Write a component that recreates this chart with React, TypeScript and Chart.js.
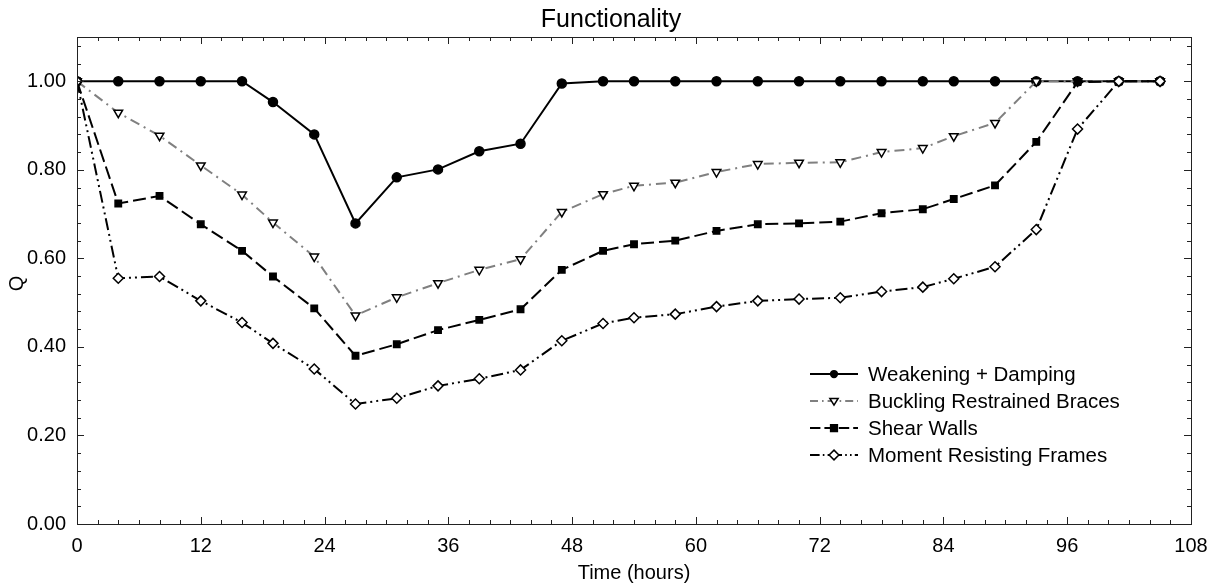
import React, { useEffect, useRef } from "react";
import { Chart, registerables } from "chart.js";

Chart.register(...registerables);

const hours = [0, 4, 8, 12, 16, 19, 23, 27, 31, 35, 39, 43, 47, 51, 54, 58, 62, 66, 70, 74, 78, 82, 85, 89, 93, 97, 101, 105];
const weakeningDamping = [1.0, 1.0, 1.0, 1.0, 1.0, 0.953, 0.88, 0.679, 0.783, 0.801, 0.842, 0.859, 0.995, 1.0, 1.0, 1.0, 1.0, 1.0, 1.0, 1.0, 1.0, 1.0, 1.0, 1.0, 1.0, 1.0, 1.0, 1.0];
const bucklingBraces = [1.0, 0.929, 0.877, 0.81, 0.744, 0.681, 0.604, 0.471, 0.512, 0.544, 0.574, 0.598, 0.705, 0.745, 0.764, 0.771, 0.795, 0.813, 0.816, 0.817, 0.84, 0.849, 0.876, 0.906, 1.0, 1.0, 1.0, 1.0];
const shearWalls = [1.0, 0.724, 0.741, 0.677, 0.617, 0.559, 0.487, 0.38, 0.406, 0.438, 0.461, 0.485, 0.574, 0.617, 0.632, 0.64, 0.662, 0.677, 0.679, 0.683, 0.702, 0.711, 0.734, 0.765, 0.863, 0.998, 1.0, 1.0];
const momentFrames = [1.0, 0.555, 0.559, 0.504, 0.455, 0.408, 0.35, 0.271, 0.284, 0.312, 0.328, 0.348, 0.414, 0.453, 0.466, 0.474, 0.491, 0.504, 0.508, 0.511, 0.525, 0.535, 0.554, 0.581, 0.665, 0.892, 1.0, 1.0];

const seriesNames = ["Weakening + Damping", "Buckling Restrained Braces", "Shear Walls", "Moment Resisting Frames"];
const yTickValues = [0, 0.2, 0.4, 0.6, 0.8, 1.0];
const chartTitle = "Functionality";
const xTitle = "Time (hours)";
const yTitle = "Q";

const FONT = "'Liberation Sans', Arial, Helvetica, sans-serif";

const styles = [
  { color: "#000000", dash: [] as number[], point: "circle", rot: 0, fill: "#000000", r: 4.5 },
  { color: "#808080", dash: [10, 5, 2, 5], point: "triangle", rot: 180, fill: "#ffffff", r: 5 },
  { color: "#000000", dash: [13, 5], point: "rect", rot: 0, fill: "#000000", r: 4.5 },
  { color: "#000000", dash: [12, 4, 2, 4, 2, 4], point: "rectRot", rot: 0, fill: "#ffffff", r: 5 },
];

function drawMarker(ctx: CanvasRenderingContext2D, style: string, x: number, y: number, r: number, rot: number) {
  ctx.beginPath();
  if (style === "circle") {
    ctx.arc(x, y, r, 0, Math.PI * 2);
  } else if (style === "rect") {
    ctx.rect(x - r, y - r, 2 * r, 2 * r);
  } else if (style === "rectRot") {
    ctx.moveTo(x, y - r * 1.3);
    ctx.lineTo(x + r * 1.3, y);
    ctx.lineTo(x, y + r * 1.3);
    ctx.lineTo(x - r * 1.3, y);
    ctx.closePath();
  } else if (style === "triangle") {
    const s = rot === 180 ? 1 : -1;
    ctx.moveTo(x - r * 1.1, y - s * r * 0.7);
    ctx.lineTo(x + r * 1.1, y - s * r * 0.7);
    ctx.lineTo(x, y + s * r * 1.1);
    ctx.closePath();
  }
  ctx.fill();
  ctx.stroke();
}

const framePlugin = {
  id: "framePlugin",
  afterDraw(chart: any) {
    const { ctx, chartArea } = chart;
    const xs = chart.scales.x;
    const ys = chart.scales.y;
    const { left, right, top, bottom } = chartArea;
    ctx.save();
    ctx.strokeStyle = "#222222";
    ctx.lineWidth = 1;
    ctx.setLineDash([]);
    ctx.strokeRect(left + 0.5, top + 0.5, right - left, bottom - top);
    ctx.beginPath();
    for (let h = 0; h <= 108; h += 2) {
      const px = Math.round(xs.getPixelForValue(h)) + 0.5;
      const len = h % 12 === 0 ? 7 : 4;
      ctx.moveTo(px, bottom);
      ctx.lineTo(px, bottom - len);
      ctx.moveTo(px, top);
      ctx.lineTo(px, top + len);
    }
    for (let i = 0; i <= 27; i++) {
      const v = i * 0.04;
      const py = Math.round(ys.getPixelForValue(v)) + 0.5;
      const len = i % 5 === 0 ? 7 : 4;
      ctx.moveTo(left, py);
      ctx.lineTo(left + len, py);
      ctx.moveTo(right, py);
      ctx.lineTo(right - len, py);
    }
    ctx.stroke();

    // titles
    ctx.fillStyle = "#000000";
    ctx.textAlign = "center";
    ctx.textBaseline = "middle";
    ctx.font = `25px ${FONT}`;
    ctx.fillText(chartTitle, chart.width / 2 + 2, 20);
    ctx.font = `20px ${FONT}`;
    ctx.fillText(xTitle, (left + right) / 2, 573);
    ctx.save();
    ctx.translate(17, (top + bottom) / 2 + 3);
    ctx.rotate(-Math.PI / 2);
    ctx.fillText(yTitle, 0, 0);
    ctx.restore();

    // legend
    const lx0 = 810, lx1 = 858, tx = 868;
    seriesNames.forEach((name, i) => {
      const st = styles[i];
      const y = 374 + 27 * i;
      ctx.save();
      ctx.strokeStyle = st.color;
      ctx.lineWidth = 2;
      ctx.setLineDash(st.dash.map((d) => d * 0.8));
      ctx.beginPath();
      ctx.moveTo(lx0, y);
      ctx.lineTo(lx1, y);
      ctx.stroke();
      ctx.restore();
      ctx.save();
      ctx.setLineDash([]);
      ctx.fillStyle = st.fill;
      ctx.strokeStyle = "#000000";
      ctx.lineWidth = 1.5;
      drawMarker(ctx, st.point, 834, y, st.r * 0.75, st.rot);
      ctx.restore();
      ctx.fillStyle = "#000000";
      ctx.textAlign = "left";
      ctx.textBaseline = "middle";
      ctx.font = `20.5px ${FONT}`;
      ctx.fillText(name, tx, y + 1);
    });
    ctx.restore();
  },
};

export default function App() {
  const ref = useRef<HTMLCanvasElement | null>(null);
  useEffect(() => {
    if (!ref.current) return;
    const seriesValues = [weakeningDamping, bucklingBraces, shearWalls, momentFrames];
    const datasets = seriesValues.map((vals, i) => {
      const st = styles[i];
      return {
        label: seriesNames[i],
        data: hours.map((h, j) => ({ x: h, y: vals[j] })),
        borderColor: st.color,
        borderWidth: 2,
        borderDash: st.dash,
        pointStyle: st.point,
        rotation: st.rot,
        pointRadius: st.r,
        pointBackgroundColor: st.fill,
        pointBorderColor: "#000000",
        pointBorderWidth: 1.5,
        fill: false,
        tension: 0,
        order: 4 - i,
      };
    });
    const chart = new Chart(ref.current, {
      type: "line",
      data: { datasets: datasets as any },
      options: {
        animation: false,
        responsive: false,
        events: [],
        layout: { padding: { top: 37, right: 27, left: 0, bottom: 0 } },
        plugins: { legend: { display: false }, title: { display: false }, tooltip: { enabled: false } },
        scales: {
          x: {
            type: "linear",
            min: 0,
            max: 108,
            grid: { display: false, drawTicks: false },
            border: { display: false },
            ticks: {
              stepSize: 12,
              color: "#000000",
              font: { family: FONT, size: 20 },
              padding: 10,
              maxRotation: 0,
            },
            afterFit: (s: any) => {
              s.height = 62;
            },
          },
          y: {
            type: "linear",
            min: 0,
            max: 1.1,
            grid: { display: false, drawTicks: false },
            border: { display: false },
            afterBuildTicks: (s: any) => {
              s.ticks = yTickValues.map((v) => ({ value: v }));
            },
            ticks: {
              color: "#000000",
              font: { family: FONT, size: 20 },
              padding: 11,
              callback: (v: any) => Number(v).toFixed(2),
            },
            afterFit: (s: any) => {
              s.width = 77;
            },
          },
        },
      },
      plugins: [framePlugin],
    });
    return () => chart.destroy();
  }, []);
  return (
    <canvas
      ref={ref}
      width={1218}
      height={586}
      style={{ position: "fixed", left: 0, top: 0, width: 1218, height: 586, display: "block", background: "#ffffff" }}
    />
  );
}
